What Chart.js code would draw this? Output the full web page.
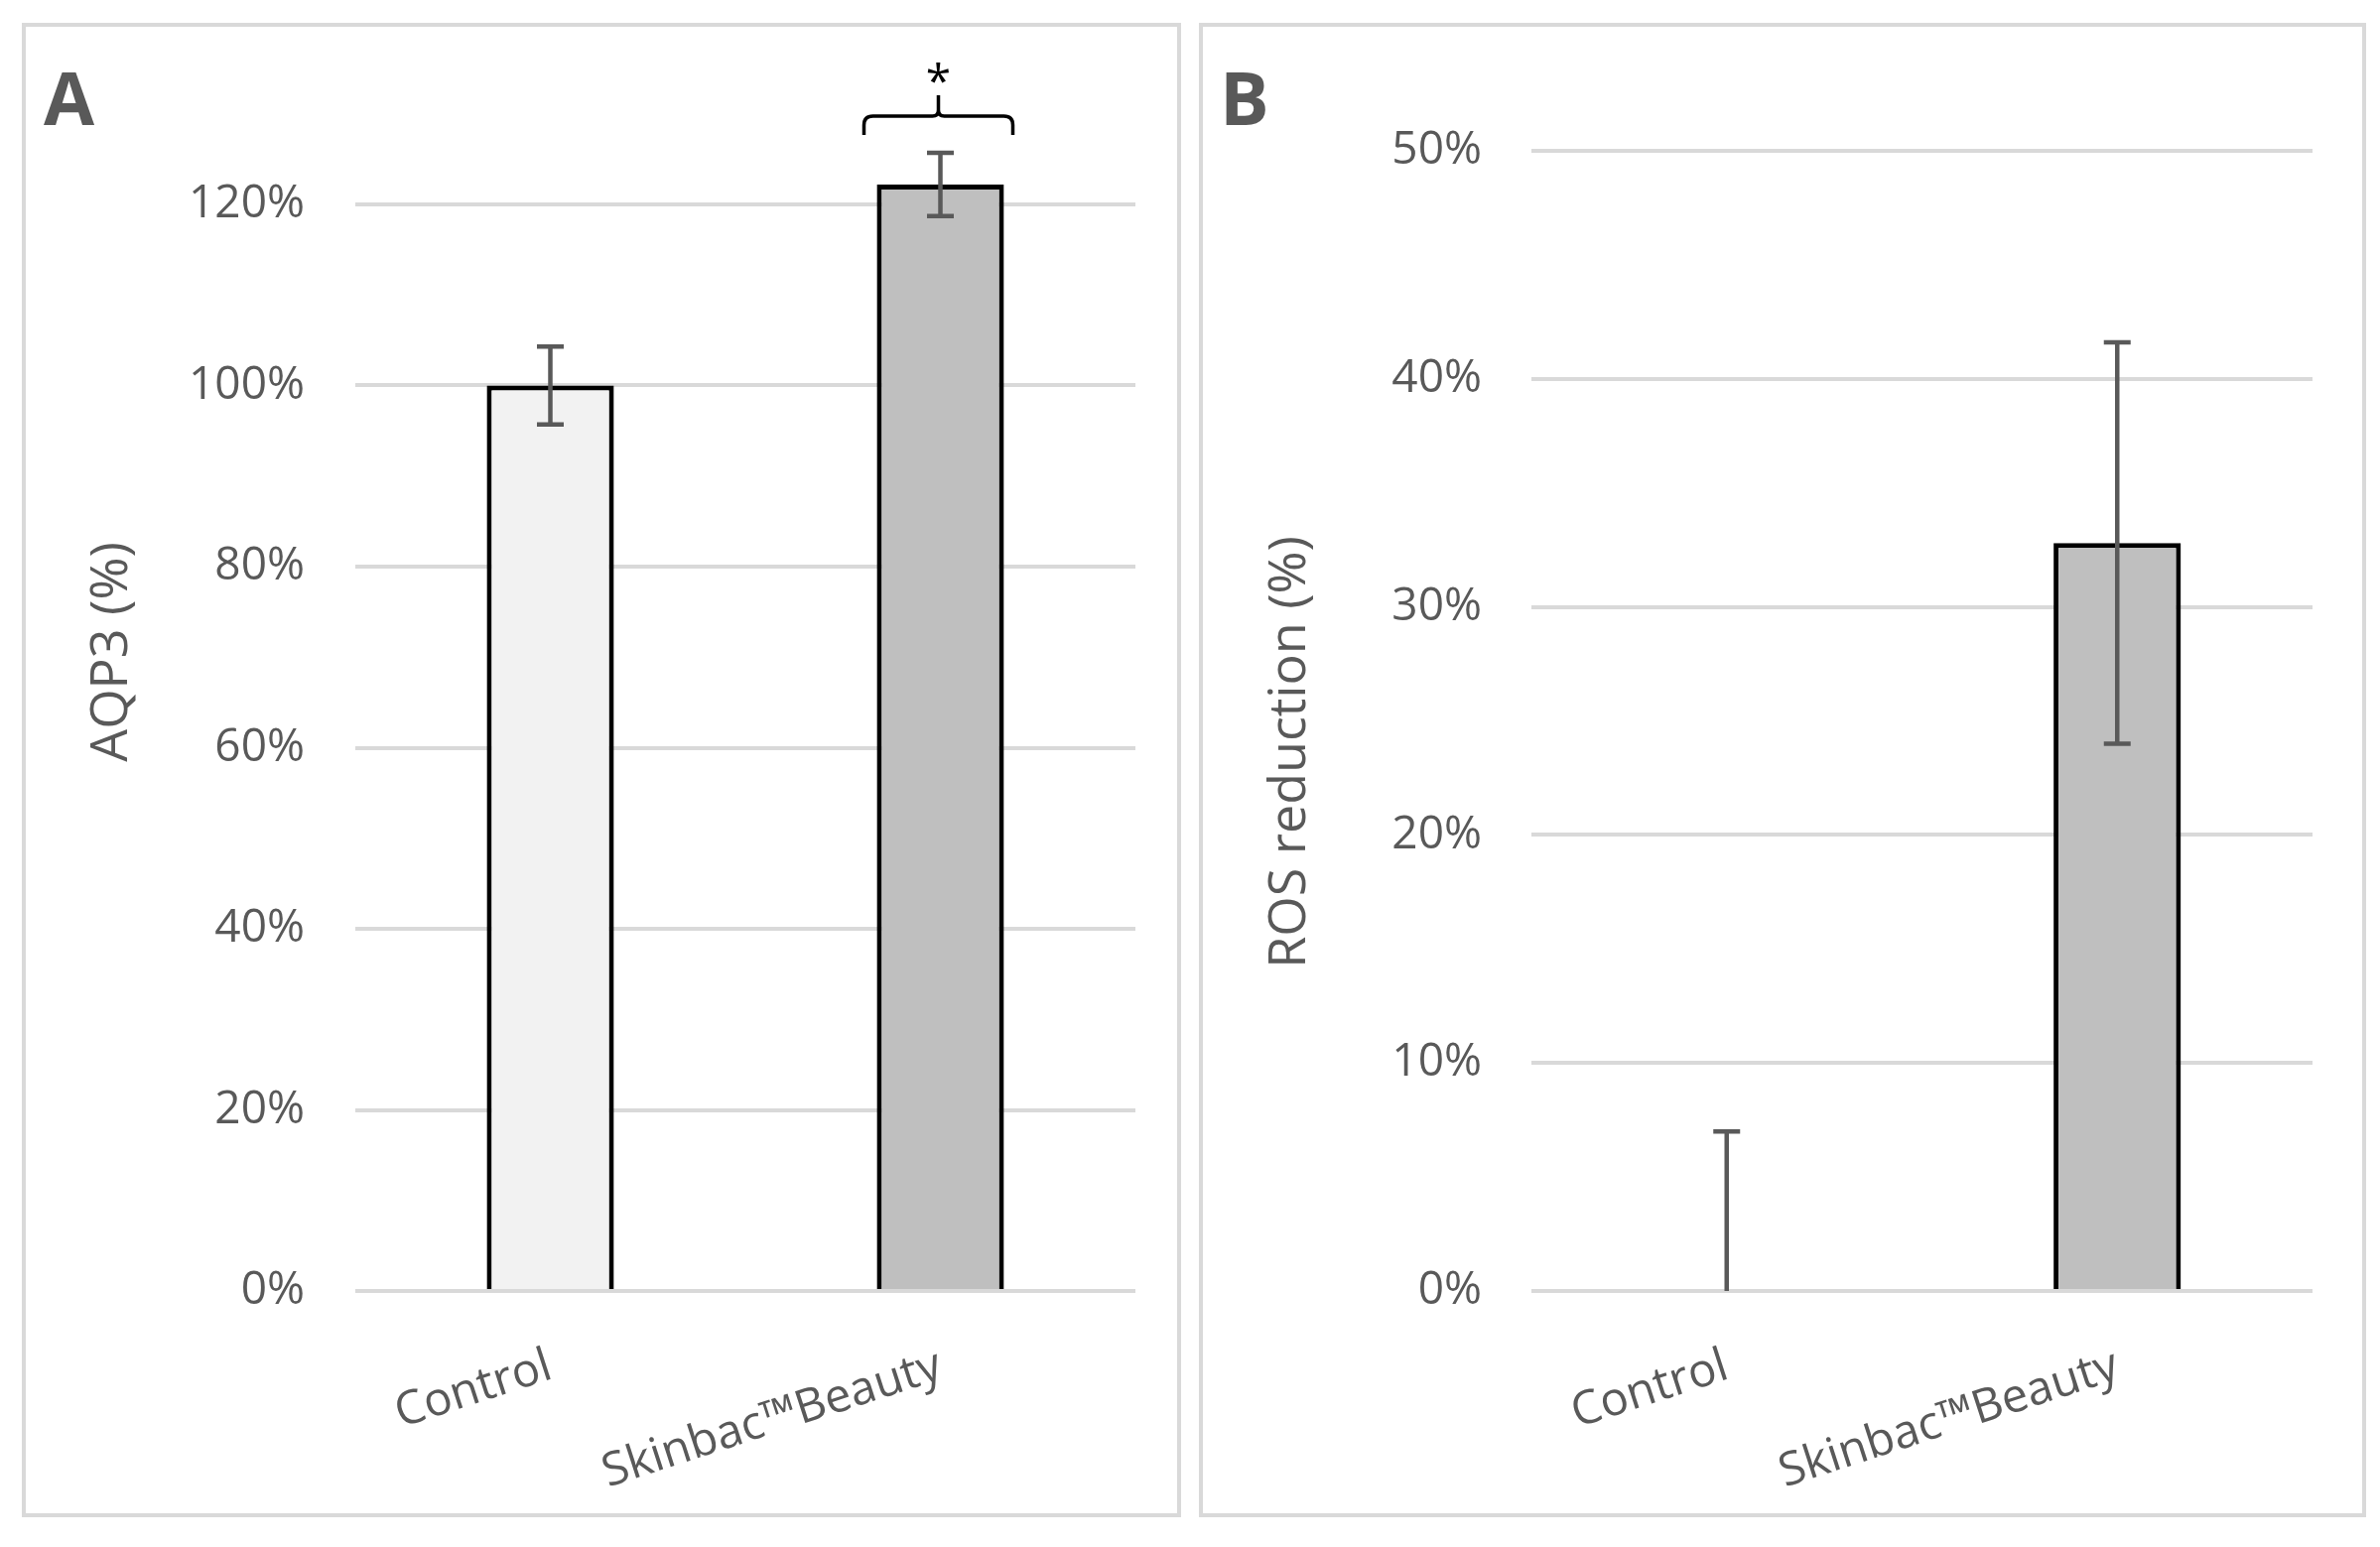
<!DOCTYPE html>
<html>
<head>
<meta charset="utf-8">
<title>AQP3 and ROS reduction</title>
<script src="https://cdn.jsdelivr.net/npm/chart.js@4.4.1/dist/chart.umd.min.js"></script>
<style>
    html, body { margin: 0; padding: 0; background: #ffffff; }
    body { width: 2398px; height: 1559px; position: relative; overflow: hidden; }
    .panel {
        position: absolute;
        top: 23px;
        height: 1506px;
        border: 4px solid #d9d9d9;
        box-sizing: border-box;
        background: #ffffff;
    }
    #panelA { left: 22px; width: 1168px; }
    #panelB { left: 1208px; width: 1176px; }
    .panel canvas { display: block; }
</style>
</head>
<body>
<div class="panel" id="panelA"><canvas id="chartA"></canvas></div>
<div class="panel" id="panelB"><canvas id="chartB"></canvas></div>

<script>
// Categories and values (percent)
const categories = ['Control', 'Skinbac\u2122Beauty'];
const barColors = ['#f2f2f2', '#bfbfbf'];

const aqp3Values = [100, 122.2];
const aqp3Errors = [4.3, 3.5];

const rosValues = [0, 32.8];
const rosErrors = [7.0, 8.8];

const TEXT_GREY = '#595959';
const FONT = "'Open Sans', 'Noto Sans', sans-serif";

// Error bars drawn from the dataset's own scales
const errorBarPlugin = {
    id: 'errorBars',
    afterDatasetsDraw(chart, args, opts) {
        const ctx = chart.ctx;
        const yScale = chart.scales.y;
        const meta = chart.getDatasetMeta(0);
        const errors = opts.errors || [];
        const values = chart.data.datasets[0].data;
        const bottom = chart.chartArea.bottom;
        ctx.save();
        ctx.strokeStyle = TEXT_GREY;
        ctx.lineWidth = 4.5;
        meta.data.forEach((bar, i) => {
            const err = errors[i];
            if (!err) return;
            const x = bar.x;
            const yTop = yScale.getPixelForValue(values[i] + err);
            let yBot = yScale.getPixelForValue(values[i] - err);
            const clipped = yBot > bottom;
            if (clipped) yBot = bottom;
            ctx.beginPath();
            ctx.moveTo(x, yTop);
            ctx.lineTo(x, yBot);
            ctx.moveTo(x - 13.5, yTop);
            ctx.lineTo(x + 13.5, yTop);
            if (!clipped) {
                ctx.moveTo(x - 13.5, yBot);
                ctx.lineTo(x + 13.5, yBot);
            }
            ctx.stroke();
        });
        ctx.restore();
    }
};

// Panel letter, axis title and significance bracket
const decorPlugin = {
    id: 'decor',
    afterDraw(chart, args, opts) {
        const ctx = chart.ctx;
        ctx.save();
        ctx.fillStyle = TEXT_GREY;
        ctx.font = 'bold 74px ' + FONT;
        ctx.textBaseline = 'alphabetic';
        ctx.textAlign = 'left';
        ctx.fillText(opts.letter, opts.letterX, 99);

        // y axis title, placed where the original sits
        ctx.save();
        ctx.translate(opts.titleX, opts.titleY);
        ctx.rotate(-Math.PI / 2);
        ctx.font = '52px ' + FONT;
        ctx.textAlign = 'center';
        ctx.textBaseline = 'middle';
        ctx.fillText(opts.title, 0, 0);
        ctx.restore();

        if (opts.bracketIndex !== undefined) {
            const i = opts.bracketIndex;
            const bar = chart.getDatasetMeta(0).data[i];
            const values = chart.data.datasets[0].data;
            const errTop = chart.scales.y.getPixelForValue(values[i] + opts.errors[i]);
            const xc = bar.x - 2;
            const hw = 75;
            const r = 9;
            const yLeg = errTop - 18;
            const yH = errTop - 37;
            const yTip = errTop - 58;
            ctx.strokeStyle = '#000000';
            ctx.lineWidth = 3.5;
            ctx.beginPath();
            ctx.moveTo(xc - hw, yLeg);
            ctx.lineTo(xc - hw, yH + r);
            ctx.quadraticCurveTo(xc - hw, yH, xc - hw + r, yH);
            ctx.lineTo(xc - 6, yH);
            ctx.quadraticCurveTo(xc, yH, xc, yH - 6);
            ctx.lineTo(xc, yTip);
            ctx.moveTo(xc, yH - 6);
            ctx.quadraticCurveTo(xc, yH, xc + 6, yH);
            ctx.lineTo(xc + hw - r, yH);
            ctx.quadraticCurveTo(xc + hw, yH, xc + hw, yH + r);
            ctx.lineTo(xc + hw, yLeg);
            ctx.stroke();

            ctx.fillStyle = '#000000';
            ctx.font = '46px ' + FONT;
            ctx.textAlign = 'center';
            ctx.textBaseline = 'alphabetic';
            ctx.fillText('*', xc, errTop - 56);
        }
        ctx.restore();
    }
};

function makeChart(canvasId, cfg) {
    const ctx = document.getElementById(canvasId).getContext('2d');
    return new Chart(ctx, {
        type: 'bar',
        data: {
            labels: categories,
            datasets: [{
                data: cfg.values,
                backgroundColor: barColors,
                borderColor: '#000000',
                borderWidth: 5,
                borderSkipped: 'start',
                categoryPercentage: 1.0,
                barPercentage: 0.326
            }]
        },
        options: {
            responsive: true,
            maintainAspectRatio: false,
            animation: false,
            layout: {
                padding: { left: 0, right: cfg.padRight, top: cfg.padTop, bottom: 0 }
            },
            plugins: {
                legend: { display: false },
                tooltip: { enabled: false },
                errorBars: { errors: cfg.errors },
                decor: cfg.decor
            },
            scales: {
                x: {
                    grid: { display: false, drawTicks: false },
                    border: { display: false },
                    ticks: {
                        color: TEXT_GREY,
                        font: { family: FONT, size: 47 },
                        minRotation: 18,
                        maxRotation: 18,
                        autoSkip: false,
                        padding: 48
                    },
                    afterFit(scale) { scale.height = cfg.xHeight; }
                },
                y: {
                    min: 0,
                    max: cfg.max,
                    grid: { color: '#d9d9d9', lineWidth: 4, drawTicks: false },
                    border: { display: false },
                    ticks: {
                        stepSize: cfg.step,
                        color: TEXT_GREY,
                        font: { family: FONT, size: 46 },
                        padding: cfg.tickPad,
                        callback: v => v + '%'
                    },
                    afterBuildTicks(scale) {
                        scale.ticks = scale.ticks.filter(t => Math.abs(t.value / cfg.step - Math.round(t.value / cfg.step)) < 1e-6);
                    },
                    afterFit(scale) {
                        scale.width = cfg.yWidth;
                        scale.paddingTop = 0;
                        scale.paddingBottom = 0;
                    }
                }
            }
        },
        plugins: [errorBarPlugin, decorPlugin]
    });
}

makeChart('chartA', {
    values: aqp3Values,
    errors: aqp3Errors,
    max: 136,
    step: 20,
    padTop: 33,
    padRight: 42,
    yWidth: 332,
    xHeight: 224,
    tickPad: 51,
    decor: { letter: 'A', letterX: 18, title: 'AQP3 (%)', titleX: 87, titleY: 630, bracketIndex: 1, errors: aqp3Errors }
});

makeChart('chartB', {
    values: rosValues,
    errors: rosErrors,
    max: 50,
    step: 10,
    padTop: 125,
    padRight: 50,
    yWidth: 331,
    xHeight: 224,
    tickPad: 50,
    decor: { letter: 'B', letterX: 17, title: 'ROS reduction (%)', titleX: 88, titleY: 731 }
});
</script>
</body>
</html>
